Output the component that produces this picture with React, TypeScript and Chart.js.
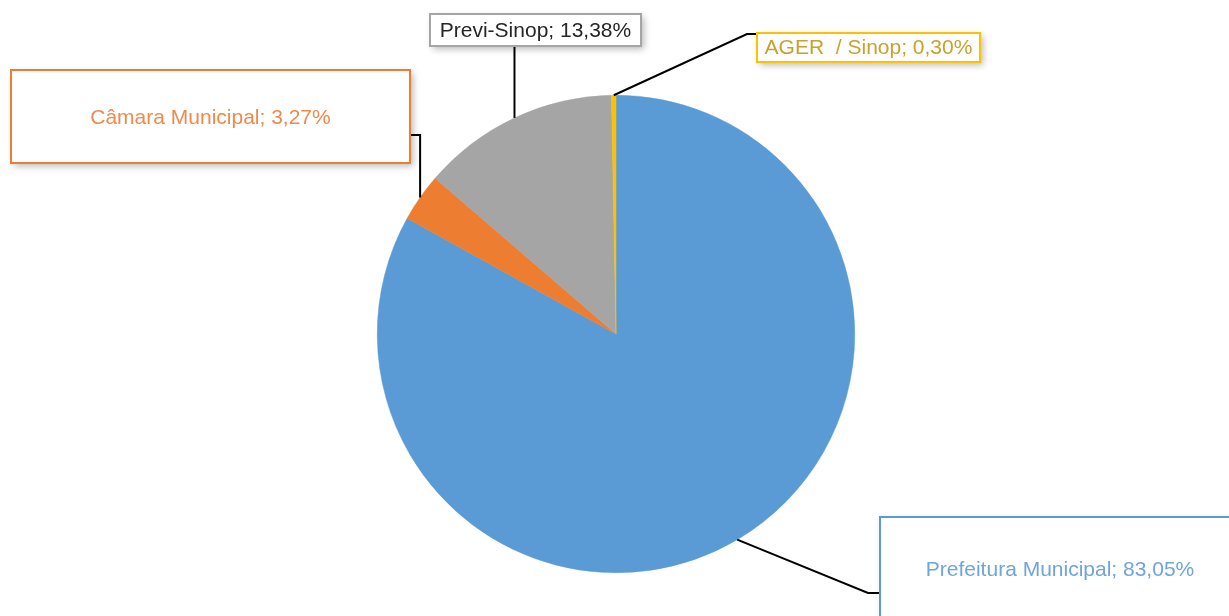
import React, { useEffect, useRef } from "react";
import { Chart, registerables } from "chart.js";

Chart.register(...registerables);

const categories = ["Prefeitura Municipal", "Câmara Municipal", "Previ-Sinop", "AGER  / Sinop"];
const shares = [83.05, 3.27, 13.38, 0.3];
const shareLabels = ["83,05%", "3,27%", "13,38%", "0,30%"];
const sliceColors = ["#5B9BD5", "#ED7D31", "#A5A5A5", "#FFC000"];
const labelTextColors = ["#6EA5DA", "#F08A4B", "#262626", "#C9A12C"];

type Pt = [number, number];
type Callout = {
  box: [number, number, number, number];
  textY: number;
  path: (a: { x: number; y: number }) => Pt[];
};

const callouts: Callout[] = [
  { box: [880, 517, 360, 106], textY: 570, path: () => [[868, 593], [880, 593]] },
  { box: [11, 70, 399, 93], textY: 118, path: (a) => [[a.x, 135], [410, 135]] },
  { box: [430, 14, 211, 32], textY: 31, path: (a) => [[a.x, 46]] },
  { box: [757, 33, 223, 29], textY: 48, path: () => [[747, 34], [757, 34]] },
];

const calloutPlugin = {
  id: "callouts",
  afterDatasetsDraw(chart: any) {
    const ctx = chart.ctx as CanvasRenderingContext2D;
    const meta = chart.getDatasetMeta(0);
    meta.data.forEach((arc: any, i: number) => {
      const p = arc.getProps(["x", "y", "startAngle", "endAngle", "outerRadius"], true);
      const mid = (p.startAngle + p.endAngle) / 2;
      const a = { x: p.x + Math.cos(mid) * p.outerRadius, y: p.y + Math.sin(mid) * p.outerRadius };
      const c = callouts[i];
      const pts = c.path(a);
      ctx.save();
      ctx.strokeStyle = "#000";
      ctx.lineWidth = 2;
      ctx.beginPath();
      ctx.moveTo(a.x, a.y);
      pts.forEach((q) => ctx.lineTo(q[0], q[1]));
      ctx.stroke();
      const [bx, by, bw, bh] = c.box;
      ctx.shadowColor = "rgba(0,0,0,0.28)";
      ctx.shadowBlur = 7;
      ctx.shadowOffsetX = 3;
      ctx.shadowOffsetY = 3;
      ctx.fillStyle = "#fff";
      ctx.fillRect(bx, by, bw, bh);
      ctx.shadowColor = "transparent";
      ctx.strokeStyle = sliceColors[i];
      ctx.lineWidth = 2;
      ctx.strokeRect(bx, by, bw, bh);
      ctx.fillStyle = labelTextColors[i];
      ctx.font = '21px "Liberation Sans", Arial, sans-serif';
      ctx.textAlign = "center";
      ctx.textBaseline = "middle";
      const text = categories[i] + "; " + shareLabels[i];
      ctx.fillText(text, bx + bw / 2, c.textY);
      ctx.restore();
    });
  },
};

export default function App() {
  const ref = useRef<HTMLCanvasElement | null>(null);
  useEffect(() => {
    if (!ref.current) return;
    const chart = new Chart(ref.current, {
      type: "pie",
      data: {
        labels: categories,
        datasets: [
          {
            data: shares,
            backgroundColor: sliceColors,
            borderColor: sliceColors,
            borderWidth: 0.5,
          },
        ],
      },
      options: {
        animation: false,
        responsive: true,
        maintainAspectRatio: false,
        layout: { padding: { left: 377, right: 374, top: 95, bottom: 43 } },
        plugins: {
          legend: { display: false },
          tooltip: { enabled: false },
        },
      },
      plugins: [calloutPlugin],
    });
    return () => chart.destroy();
  }, []);
  return (
    <div style={{ position: "absolute", left: 0, top: 0, width: 1229, height: 616, background: "#fff" }}>
      <canvas ref={ref} />
    </div>
  );
}
